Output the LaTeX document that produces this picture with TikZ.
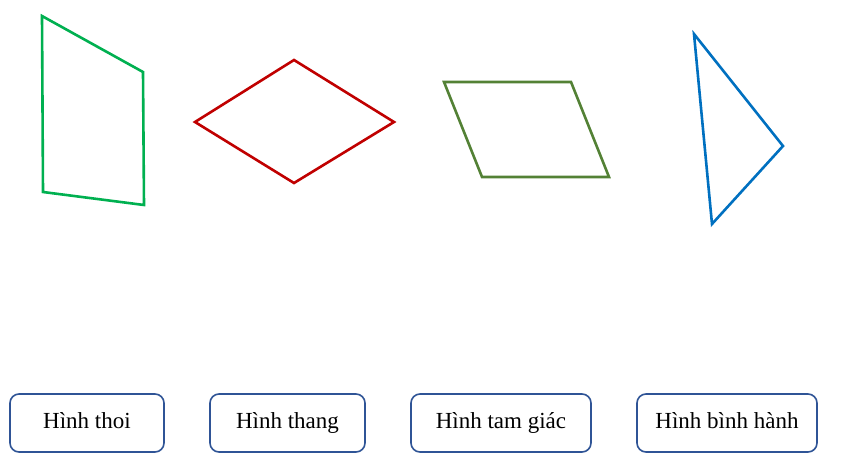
\documentclass[tikz,border=0pt]{standalone}
\usepackage{fontspec}
\setmainfont{Liberation Serif}
\definecolor{trapgreen}{HTML}{00B050}
\definecolor{rhored}{HTML}{C00000}
\definecolor{paragreen}{HTML}{538135}
\definecolor{tribblue}{HTML}{0070C0}
\definecolor{boxblue}{HTML}{2F5496}
\begin{document}
\begin{tikzpicture}[x=1pt,y=-1pt,
  shapeline/.style={line width=2.6pt,line join=miter},
  labelbox/.style={draw=boxblue,line width=1.6pt,rounded corners=9pt,fill=white,
    minimum height=58pt,inner sep=0pt,text height=15.5pt,text depth=4.5pt,
    font=\fontsize{23}{27}\selectfont}]
\useasboundingbox (0,0) rectangle (855,458);
% trapezoid
\coordinate (t1) at (42,16);
\coordinate (t2) at (143,72);
\coordinate (t3) at (144,205);
\coordinate (t4) at (43,192);
\draw[shapeline,trapgreen] (t1) -- (t2) -- (t3) -- (t4) -- cycle;
% rhombus
\coordinate (r1) at (294,60);
\coordinate (r2) at (394,122);
\coordinate (r3) at (294,183);
\coordinate (r4) at (195,122);
\draw[shapeline,rhored] (r1) -- (r2) -- (r3) -- (r4) -- cycle;
% parallelogram
\coordinate (p1) at (444,82);
\coordinate (p2) at (571,82);
\coordinate (p3) at (609,177);
\coordinate (p4) at (482,177);
\draw[shapeline,paragreen] (p1) -- (p2) -- (p3) -- (p4) -- cycle;
% triangle
\coordinate (g1) at (694,34);
\coordinate (g2) at (783,146);
\coordinate (g3) at (712,224);
\draw[shapeline,tribblue] (g1) -- (g2) -- (g3) -- cycle;
% label boxes
\node[labelbox,minimum width=154pt] (b1) at (87,423) {Hình thoi};
\node[labelbox,minimum width=155pt] (b2) at (287.5,423) {Hình thang};
\node[labelbox,minimum width=180pt] (b3) at (501,423) {Hình tam giác};
\node[labelbox,minimum width=180pt] (b4) at (727,423) {Hình bình hành};
\end{tikzpicture}
\end{document}
